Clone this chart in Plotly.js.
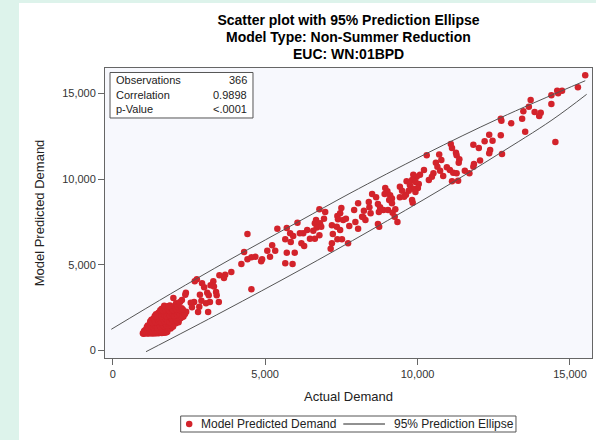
<!DOCTYPE html>
<html>
<head>
<meta charset="utf-8">
<script src="https://cdn.plot.ly/plotly-3.0.1.min.js"></script>
<style>
  html, body { margin: 0; padding: 0; width: 596px; height: 440px; overflow: hidden; background: #ddf3eb; }
  #panel { position: absolute; left: 19px; top: 3px; width: 577px; height: 437px; background: #ffffff; }
  #chart { position: absolute; left: 0; top: 0; width: 596px; height: 440px; }
</style>
</head>
<body>
<div id="panel"></div>
<div id="chart"></div>
<script>
// Observations: actual demand vs. model predicted demand (366 days, non-summer model)
const actualDemand = [
  12750,13070,13530,14520,12350,12730,12200,12460,11830,12010,
  12380,12350,12770,12050,11850,11830,11700,11550,11090,11130,
  11260,11280,11370,11350,10710,10780,10600,10300,10650,10740,
  10960,11060,11170,11280,11130,11330,10840,10520,10470,10370,
  10210,10080,9970,9860,9820,9930,10040,9640,9750,10010,
  9860,9930,9710,9420,9490,9620,9820,9840,9420,9560,
  8940,9010,9100,9160,9070,8920,8510,8640,8400,8700,
  8770,8880,8730,9030,9180,9270,9250,9340,9160,8420,
  8460,8240,8220,8290,8180,8050,7920,7960,8050,7760,
  8700,8740,7500,7460,7370,7390,7560,7650,7190,7350,
  7460,7220,7370,7150,6780,6970,6930,6670,6630,6800,
  6690,6840,6580,6780,6380,6250,6470,6630,6190,6280,
  15500,15260,14740,14580,14610,14390,13710,14390,13650,13470,
  13840,14040,13990,13430,12730,
  6060,5710,5400,5820,5920,5660,5840,4420,5230,5330,
  5070,4310,5710,5970,4680,4900,6140,7190,7520,7720,
  4550,4420,4220,4870,5160,5660,5900,3890,3690,3500,
  3650,3300,2760,2930,3000,3210,3320,3390,3100,3150,
  3410,3480,3190,3060,3130,2800,2840,2670,2560,2600,
  2910,2860,2400,2270,1990,2080,2210,4550,
  2380,2210,2690,
  990,1010,1040,1060,1090,1110,1140,1170,1190,1220,
  1250,1270,1300,1330,1360,1380,1410,1440,1470,1500,
  1520,1550,1580,1610,1640,1670,1700,1730,1760,1790,
  1030,1070,1100,1130,1160,1200,1230,1260,1290,1320,
  1350,1390,1420,1450,1480,1510,1540,1570,1600,1630,
  1660,1690,1720,1750,1790,1820,1860,1900,1940,1980,
  1120,1150,1190,1220,1260,1290,1330,1360,1400,1430,
  1470,1500,1540,1570,1610,1640,1680,1710,1750,1780,
  1820,1850,1890,1920,1960,1990,2030,2070,2110,2160,
  1230,1270,1300,1340,1380,1410,1450,1480,1520,1550,
  1590,1620,1660,1700,1730,1770,1800,1840,1870,1910,
  1950,1980,2020,2060,2100,2140,2180,2220,2270,2320,
  1380,1420,1460,1500,1540,1580,1610,1650,1690,1720,
  1760,1800,1830,1870,1910,1940,1980,2020,2050,2090,
  2130,2170,2210,2250,2290,2330,2370,2410,
  1560,1610,1650,1700,1740,1780,1820,1860,1900,1940,
  1980,2020,2060,2100,2140,2180,2220,2260,2300,1690,
  1880,1840
];
const predictedDemand = [
  13410,13260,12770,12170,12590,12560,12210,12240,12010,11820,
  11700,11510,11470,11080,10880,10720,10340,10490,12050,11820,
  11540,11390,11160,10960,11430,11120,10960,11390,10720,10490,
  10690,10530,10370,10340,9870,9910,10180,10340,10140,9950,
  10530,10260,10140,10260,9950,9830,9710,9870,9640,9480,
  9440,9250,9320,9560,9320,9090,8780,8620,8940,8970,
  9480,9290,9050,8860,8780,9130,9130,8940,8660,8550,
  8350,8200,8080,8200,8040,8240,7800,7490,8590,8350,
  8000,8150,7770,7610,7800,8590,8200,7490,7100,7260,
  7380,7220,8310,8000,7840,7650,7610,7690,7300,7220,
  7030,6790,6480,5930,8240,8080,7690,7610,7420,7420,
  7180,7220,6990,6720,7030,6830,6520,6520,6250,6090,
  16060,15360,15160,15160,15010,14900,14620,14390,14230,13960,
  13920,13880,13690,13530,13530,
  7450,7140,7100,6830,6680,6480,6330,6790,6130,5820,
  5820,5740,5700,5700,5470,5320,6830,6250,6480,6250,
  5430,5320,5040,5200,5470,5080,5040,4570,4420,4380,
  4220,4030,4150,3910,3680,3800,3720,3410,3360,3210,
  3210,2820,2820,2750,2240,2240,2550,2820,2780,2510,
  2900,3250,3360,2940,3060,2750,2400,3560,
  3250,2820,4030,
  1000,970,1020,990,1010,1040,980,1000,1030,990,
  1010,1050,980,1020,1000,1040,990,1010,1030,1000,
  1060,1020,1040,1010,1050,1030,1070,1040,1060,1080,
  1120,1180,1100,1240,1150,1210,1130,1270,1180,1110,
  1230,1160,1290,1200,1120,1250,1170,1300,1140,1220,
  1280,1190,1250,1310,1230,1290,1340,1280,1360,1390,
  1360,1450,1320,1520,1400,1580,1350,1470,1540,1410,
  1330,1600,1450,1380,1560,1480,1420,1590,1500,1440,
  1560,1610,1480,1540,1600,1520,1650,1580,1670,1640,
  1680,1790,1620,1860,1720,1650,1900,1780,1700,1840,
  1640,1920,1760,1690,1870,1810,1730,1940,1660,1880,
  1790,1720,1950,1830,1760,1900,1810,1870,1930,1980,
  2000,2110,1980,2190,2060,2240,2010,2150,2080,2270,
  1990,2130,2220,2050,2180,2290,2100,2020,2240,2160,
  2070,2210,2130,2280,2050,2190,2120,2250,
  2340,2420,2310,2480,2370,2550,2400,2330,2510,2440,
  2360,2580,2470,2390,2520,2430,2350,2460,2380,2600,
  2620,2590
];

// 95% prediction ellipse, upper and lower arcs as drawn inside the data region
const ellipseUpperX = [-46, 1900, 3847, 6143, 7783, 10243, 12703, 15501];
const ellipseUpperY = [1227, 3300, 5300, 7560, 9170, 11450, 13570, 15747];
const ellipseLowerX = [1092, 3618, 6143, 8440, 10735, 12600, 14409, 15547];
const ellipseLowerY = [-82, 2266, 4690, 6990, 9363, 11400, 13452, 14953];

const axisTicks = [0, 5000, 10000, 15000];

const statLabels = ['Observations', 'Correlation', 'p-Value'];
const statValues = ['366', '0.9898', '<.0001'];

const titleText = 'Scatter plot with 95% Prediction Ellipse';
const subtitleLines = ['Model Type: Non-Summer Reduction', 'EUC: WN:01BPD'];

const seriesNames = ['Model Predicted Demand', '95% Prediction Ellipse'];

const FONT = 'Arial, "Liberation Sans", Helvetica, sans-serif';
const RED = '#d3232b';
const ELLIPSE_GREY = '#555555';
const esc = s => s.replace(/&/g, '&amp;').replace(/</g, '&lt;').replace(/>/g, '&gt;');

const scatter = {
  type: 'scatter',
  mode: 'markers',
  name: seriesNames[0],
  x: actualDemand,
  y: predictedDemand,
  marker: { color: RED, size: 6.5, line: { width: 0 } },
  hoverinfo: 'x+y',
  showlegend: false
};

const ellipse = {
  type: 'scatter',
  mode: 'lines',
  name: seriesNames[1],
  x: ellipseUpperX.concat([null], ellipseLowerX),
  y: ellipseUpperY.concat([null], ellipseLowerY),
  connectgaps: false,
  line: { color: ELLIPSE_GREY, width: 1, shape: 'spline', smoothing: 1 },
  hoverinfo: 'skip',
  showlegend: false
};

const annotations = [];
const shapes = [];

// second and third title lines, centred over the plot area
const subtitleRows = [1.107, 1.048];
subtitleLines.forEach((t, i) => {
  annotations.push({
    xref: 'paper', yref: 'paper', x: 0.5, y: subtitleRows[i],
    xanchor: 'center', yanchor: 'middle', showarrow: false,
    text: '<b>' + esc(t) + '</b>', font: { family: FONT, size: 14, color: '#000' }
  });
});

// statistics inset in the upper-left corner of the plot area
shapes.push({
  type: 'rect', xref: 'paper', yref: 'paper',
  x0: 0.0103, x1: 0.3039, y0: 0.8276, y1: 0.9845,
  fillcolor: '#ffffff', line: { color: '#555', width: 1 }, layer: 'above'
});
const statRows = [0.957, 0.907, 0.857];
statLabels.forEach((lab, i) => {
  annotations.push({
    xref: 'paper', yref: 'paper', x: 0.0185, y: statRows[i],
    xanchor: 'left', yanchor: 'middle', showarrow: false,
    text: esc(lab), font: { family: FONT, size: 11, color: '#222' }
  });
  annotations.push({
    xref: 'paper', yref: 'paper', x: 0.295, y: statRows[i],
    xanchor: 'right', yanchor: 'middle', showarrow: false,
    text: esc(statValues[i]), font: { family: FONT, size: 11, color: '#222' }
  });
});

// legend box below the x-axis title: dot key, line key and the two series names
const legendRow = -0.2276;
shapes.push(
  { type: 'rect', xref: 'paper', yref: 'paper', x0: 0.1554, x1: 0.8439, y0: -0.2552, y1: -0.2,
    fillcolor: '#ffffff', line: { color: '#555', width: 1 } },
  { type: 'circle', xref: 'paper', yref: 'paper', x0: 0.1662, x1: 0.1796, y0: legendRow - 0.0112, y1: legendRow + 0.0112,
    fillcolor: RED, line: { width: 0 } },
  { type: 'line', xref: 'paper', yref: 'paper', x0: 0.4893, x1: 0.5749, y0: legendRow, y1: legendRow,
    line: { color: '#222', width: 1 } }
);
[[0.1937, seriesNames[0]], [0.5887, seriesNames[1]]].forEach(([x, name]) => {
  annotations.push({
    xref: 'paper', yref: 'paper', x: x, y: legendRow,
    xanchor: 'left', yanchor: 'middle', showarrow: false,
    text: esc(name), font: { family: FONT, size: 12, color: '#222' }
  });
});

const layout = {
  width: 596,
  height: 440,
  margin: { l: 105, r: 4, t: 68, b: 82, autoexpand: false },
  paper_bgcolor: 'rgba(0,0,0,0)',
  plot_bgcolor: '#f7f8fd',
  font: { family: FONT, color: '#333' },
  showlegend: false,
  title: {
    text: '<b>' + esc(titleText) + '</b>',
    font: { family: FONT, size: 14, color: '#000' },
    x: 0.5, xref: 'paper', xanchor: 'center',
    y: 1 - 20 / 440, yref: 'container', yanchor: 'middle'
  },
  xaxis: {
    range: [-253, 15722],
    tickvals: axisTicks,
    tickformat: ',d',
    ticks: 'outside', ticklen: 6, tickwidth: 1, tickcolor: '#666',
    showline: true, linecolor: '#666', linewidth: 1, mirror: true,
    showgrid: false, zeroline: false, automargin: false,
    tickfont: { family: FONT, size: 11, color: '#333' },
    title: { text: 'Actual Demand', font: { family: FONT, size: 13, color: '#222' }, standoff: 12 }
  },
  yaxis: {
    range: [-450, 16490],
    tickvals: axisTicks,
    tickformat: ',d',
    ticks: 'outside', ticklen: 6, tickwidth: 1, tickcolor: '#666',
    showline: true, linecolor: '#666', linewidth: 1, mirror: true,
    showgrid: false, zeroline: false, automargin: false,
    tickfont: { family: FONT, size: 11, color: '#333' },
    title: { text: 'Model Predicted Demand', font: { family: FONT, size: 13, color: '#222' }, standoff: 14 }
  },
  shapes: shapes,
  annotations: annotations
};

Plotly.newPlot('chart', [scatter, ellipse], layout, { displayModeBar: false, staticPlot: true });
</script>
</body>
</html>
